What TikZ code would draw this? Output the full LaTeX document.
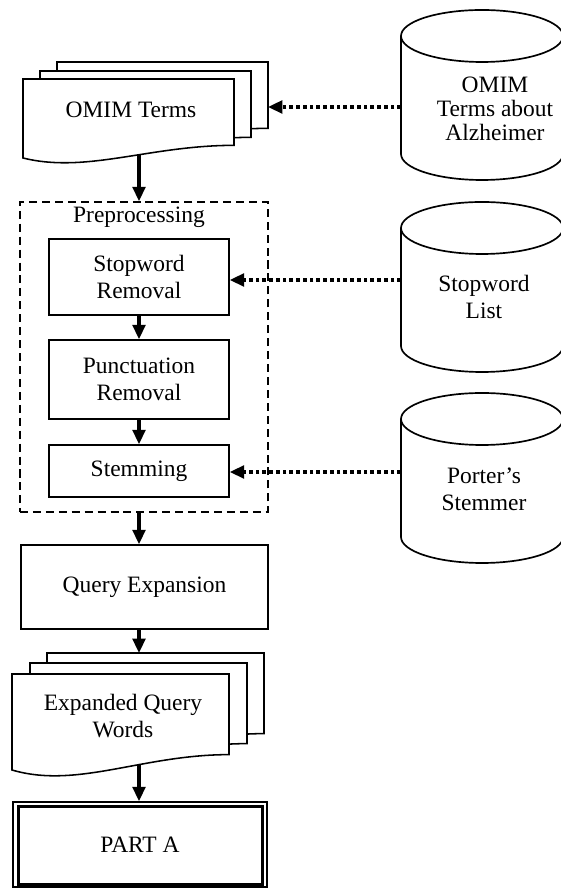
\documentclass[tikz,border=0pt]{standalone}
\usepackage{fontspec}
\setmainfont{Liberation Serif}
\usetikzlibrary{arrows.meta}

\tikzset{
  procbox/.style={draw, line width=1.1pt, minimum width=4.5cm, align=center, inner sep=0pt},
  page/.style={draw, fill=white, line width=1.1pt},
  dbline/.style={line width=1.2pt},
  flow/.style={line width=2.2pt, -{Triangle[length=0.36cm,width=0.32cm]}},
  feed/.style={line width=2.2pt, dash pattern=on 2.6pt off 2.2pt, -{Triangle[length=0.36cm,width=0.32cm]}}
}

\begin{document}
\begin{tikzpicture}[font=\fontsize{16.7}{19.2}\selectfont]
\useasboundingbox (0,0) rectangle (14,22.2);

% Drawing OMIM terms pages
\draw[page, shift={(1.425,20.65)}] (0,0) -- (5.275,0) -- (5.275,-1.659) .. controls (3.165,-1.659) and (1.5825,-2.37) .. (0,-1.975) -- cycle;
\draw[page, shift={(1.0,20.425)}] (0,0) -- (5.275,0) -- (5.275,-1.659) .. controls (3.165,-1.659) and (1.5825,-2.37) .. (0,-1.975) -- cycle;
\draw[page, shift={(0.575,20.225)}] (0,0) -- (5.275,0) -- (5.275,-1.659) .. controls (3.165,-1.659) and (1.5825,-2.37) .. (0,-1.975) -- cycle;
\node (omimterms) at (3.275,19.45) {OMIM Terms};
\coordinate (omimback) at (6.7,19.525);
\coordinate (omimtip) at (3.475,18.35);

% Drawing preprocessing block
\node[draw, line width=1.1pt, dash pattern=on 5.7pt off 3.5pt, minimum width=6.2cm, minimum height=7.75cm] (pre) at (3.6,13.275) {};
\node (pretitle) at (3.475,16.775) {Preprocessing};
\node[procbox, minimum height=1.9cm] (stop) at (3.475,15.275) {Stopword\\Removal};
\node[procbox, minimum height=1.975cm] (punct) at (3.475,12.7125) {Punctuation\\Removal};
\node[procbox, minimum height=1.3cm] (stem) at (3.475,10.425) {Stemming};

% Drawing query expansion
\node[procbox, minimum width=6.175cm, minimum height=2.1cm] (qe) at (3.6125,7.525) {Query Expansion};

% Drawing expanded query pages
\draw[page, shift={(1.175,5.875)}] (0,0) -- (5.425,0) -- (5.425,-2.016) .. controls (3.255,-2.016) and (1.6275,-2.88) .. (0,-2.4) -- cycle;
\draw[page, shift={(0.75,5.625)}] (0,0) -- (5.425,0) -- (5.425,-2.016) .. controls (3.255,-2.016) and (1.6275,-2.88) .. (0,-2.4) -- cycle;
\draw[page, shift={(0.3,5.35)}] (0,0) -- (5.425,0) -- (5.425,-2.016) .. controls (3.255,-2.016) and (1.6275,-2.88) .. (0,-2.4) -- cycle;
\node[align=center] (expwords) at (3.075,4.2875) {Expanded Query\\Words};
\coordinate (expback) at (3.475,5.875);
\coordinate (exptip) at (3.475,3.1);

% Drawing part A
\node[draw, line width=1.1pt, minimum width=6.35cm, minimum height=2.125cm] (parta) at (3.5,1.0875) {PART A};
\draw[line width=2.2pt] ([shift={(0.15,0.075)}]parta.south west) rectangle ([shift={(-0.125,-0.125)}]parta.north east);

% Drawing databases
\draw[dbline, shift={(12.05,21.3)}] (-2.025,0) -- (-2.025,-2.95) arc (180:360:2.025 and 0.65) -- (2.025,0);
\draw[dbline] (12.05,21.3) ellipse (2.025 and 0.65);
\draw[dbline, shift={(12.05,16.5)}] (-2.025,0) -- (-2.025,-2.95) arc (180:360:2.025 and 0.65) -- (2.025,0);
\draw[dbline] (12.05,16.5) ellipse (2.025 and 0.65);
\draw[dbline, shift={(12.05,11.725)}] (-2.025,0) -- (-2.025,-2.95) arc (180:360:2.025 and 0.65) -- (2.025,0);
\draw[dbline] (12.05,11.725) ellipse (2.025 and 0.65);
\node[align=center, font=\fontsize{16.7}{17.2}\selectfont] (db1) at (12.375,19.475) {OMIM\\Terms about\\Alzheimer};
\node[align=center] (db2) at (12.1,14.775) {Stopword\\List};
\node[align=center] (db3) at (12.1,9.975) {Porter's\\Stemmer};
\coordinate (db1in) at (10.025,19.525);
\coordinate (db2in) at (10.025,15.2);
\coordinate (db3in) at (10.025,10.4);

% Drawing arrows
\draw[flow] (omimtip) -- (pre.north -| omimtip);
\draw[flow] (stop.south) -- (punct.north);
\draw[flow] (punct.south) -- (stem.north);
\draw[flow] (pre.south -| stem) -- (qe.north -| stem);
\draw[flow] (qe.south -| stem) -- (expback);
\draw[flow] (exptip) -- (parta.north -| exptip);
\draw[feed] (db1in) -- (omimback);
\draw[feed] (db2in) -- (db2in -| stop.east);
\draw[feed] (db3in) -- (db3in -| stem.east);
\end{tikzpicture}
\end{document}
